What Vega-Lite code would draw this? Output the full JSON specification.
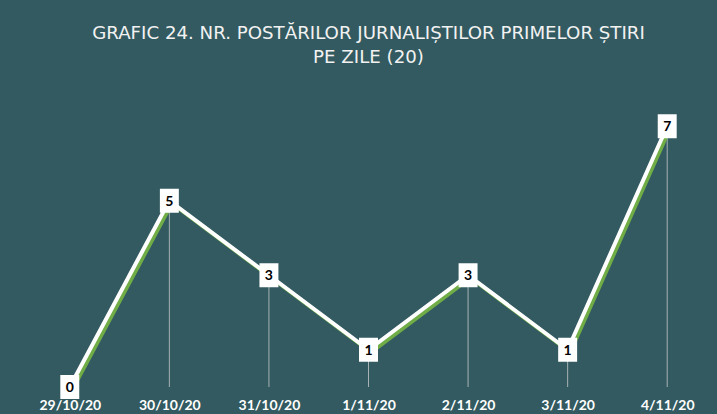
{
  "$schema": "https://vega.github.io/schema/vega-lite/v6.json",
  "width": 697,
  "height": 298,
  "autosize": {"type": "none"},
  "padding": {"left": 20, "right": 0, "top": 89, "bottom": 27},
  "background": "#325a60",
  "config": {"view": {"stroke": null}, "font": "Lato"},
  "title": {
    "text": ["GRAFIC 24. NR. POSTĂRILOR JURNALIȘTILOR PRIMELOR ȘTIRI", "PE ZILE (20)"],
    "anchor": "middle",
    "frame": "group",
    "color": "#f2f2f2",
    "font": "DejaVu Sans",
    "fontSize": 18.2,
    "fontWeight": "normal",
    "lineHeight": 24,
    "offset": 22
  },
  "data": {
    "values": [
      {"zi": "29/10/20", "n": 0},
      {"zi": "30/10/20", "n": 5},
      {"zi": "31/10/20", "n": 3},
      {"zi": "1/11/20", "n": 1},
      {"zi": "2/11/20", "n": 3},
      {"zi": "3/11/20", "n": 1},
      {"zi": "4/11/20", "n": 7}
    ]
  },
  "encoding": {
    "x": {
      "field": "zi", "type": "ordinal", "sort": null,
      "scale": {"type": "point", "padding": 0.5},
      "axis": {"title": null, "domain": false, "ticks": false, "labelAngle": 0,
        "labelColor": "#ffffff", "labelFont": "Lato", "labelFontSize": 14, "labelFontWeight": "bold", "labelPadding": 11}
    },
    "y": {
      "field": "n", "type": "quantitative",
      "scale": {"domain": [0, 8], "nice": false},
      "axis": null
    }
  },
  "layer": [
    {"mark": {"type": "rule", "color": "#d9d9d9", "strokeWidth": 1, "opacity": 0.7}, "encoding": {"y2": {"datum": 0}}},
    {"mark": {"type": "line", "color": "#70ad47", "strokeWidth": 4, "xOffset": 2.5, "yOffset": 2.5}},
    {"mark": {"type": "line", "color": "#ffffff", "strokeWidth": 4}},
    {"mark": {"type": "point", "shape": "M-0.79,-1H0.79V1H-0.79Z", "size": 576, "filled": true, "color": "#ffffff", "opacity": 1}},
    {"mark": {"type": "text", "color": "#000000", "font": "Lato", "fontSize": 14, "fontWeight": "bold", "dy": 1}, "encoding": {"text": {"field": "n"}}}
  ]
}
